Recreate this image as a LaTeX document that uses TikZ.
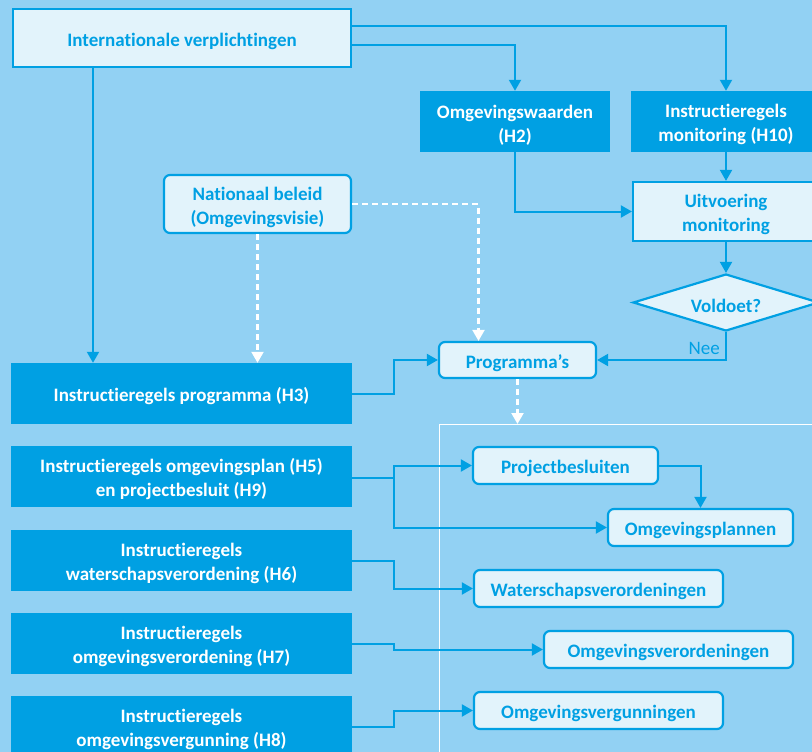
\documentclass[tikz,border=0pt]{standalone}
\usepackage{fontspec}
\setmainfont{Carlito}[Ligatures=NoCommon]
\usetikzlibrary{arrows.meta,shapes.geometric}
\definecolor{bgblue}{HTML}{92D1F3}
\definecolor{dblue}{HTML}{00A0E3}
\definecolor{lfill}{HTML}{E2F3FB}
\newcommand{\tstrut}{\rule{0pt}{20pt}}
\tikzset{
  txt/.style={font=\fontsize{19}{24}\selectfont\bfseries, align=center, inner sep=0pt},
  darkbox/.style={txt, fill=dblue, text=white},
  lightbox/.style={txt, fill=lfill, draw=dblue, line width=2.2pt, text=dblue},
  roundbox/.style={lightbox, rounded corners=6pt},
  arr/.style={draw=dblue, line width=2pt, -{Triangle[length=11pt,width=12pt]}},
  darr/.style={draw=white, line width=2.2pt, dash pattern=on 6pt off 4pt, -{Triangle[length=11pt,width=12pt,fill=white]}},
}
\begin{document}
\begin{tikzpicture}[x=1pt,y=-1pt]
\fill[bgblue] (0,0) rectangle (812,752);
\useasboundingbox (0,0) rectangle (812,752);
% frame
\draw[white, line width=1pt] (439,760) |- (830,424);
\coordinate (fr) at (517.5,424);
% nodes
\node[lightbox, minimum width=338pt, minimum height=58pt] (intl) at (182,38) {\tstrut Internationale verplichtingen};
\node[darkbox, minimum width=190pt, minimum height=61pt] (h2) at (515,121.5) {\tstrut Omgevingswaarden\\(H2)};
\node[darkbox, minimum width=190pt, minimum height=61pt] (h10) at (726,121.5) {\tstrut Instructieregels\\monitoring (H10)};
\node[lightbox, minimum width=186pt, minimum height=59pt] (uit) at (726,211.5) {\tstrut Uitvoering\\monitoring};
\node[roundbox, minimum width=187pt, minimum height=58pt] (nat) at (257.5,204) {\tstrut Nationaal beleid\\(Omgevingsvisie)};
\node[lightbox, diamond, aspect=3.26, minimum width=186pt, minimum height=57pt] (dia) at (726,302.5) {\tstrut Voldoet?};
\node[roundbox, minimum width=157pt, minimum height=36pt] (prog) at (517.5,360) {\tstrut Programma’s};
\node[darkbox, minimum width=341pt, minimum height=61pt] (h3) at (181.5,393.5) {\tstrut Instructieregels programma (H3)};
\node[darkbox, minimum width=341pt, minimum height=61pt] (h5) at (181.5,476.5) {\tstrut Instructieregels omgevingsplan (H5)\\en projectbesluit (H9)};
\node[darkbox, minimum width=341pt, minimum height=61pt] (h6) at (181.5,560.5) {\tstrut Instructieregels\\waterschapsverordening (H6)};
\node[darkbox, minimum width=341pt, minimum height=61pt] (h7) at (181.5,643.5) {\tstrut Instructieregels\\omgevingsverordening (H7)};
\node[darkbox, minimum width=341pt, minimum height=61pt] (h8) at (181.5,726.5) {\tstrut Instructieregels\\omgevingsvergunning (H8)};
\node[roundbox, minimum width=185pt, minimum height=37pt] (pb) at (565.5,465.5) {\tstrut Projectbesluiten};
\node[roundbox, minimum width=185pt, minimum height=37pt] (op) at (700.5,527.5) {\tstrut Omgevingsplannen};
\node[roundbox, minimum width=249pt, minimum height=37pt] (wv) at (598.5,588.5) {\tstrut Waterschapsverordeningen};
\node[roundbox, minimum width=249pt, minimum height=37pt] (ov) at (668.5,649.5) {\tstrut Omgevingsverordeningen};
\node[roundbox, minimum width=249pt, minimum height=37pt] (ovg) at (598.5,710.5) {\tstrut Omgevingsvergunningen};
\node[font=\fontsize{19}{24}\selectfont, text=dblue, anchor=base east, inner sep=0pt] (nee) at (720,354) {Nee};
% connectors
\draw[arr] ([yshift=12pt]intl.east) -| (h10.north);
\draw[arr] ([yshift=-7pt]intl.east) -| (h2.north);
\draw[arr] (h10.south) -- (uit.north);
\draw[arr] (h2.south) |- (uit.west);
\draw[arr] (uit.south) -- (dia.north);
\draw[arr] (dia.south) |- (prog.east);
\draw[arr] ([xshift=-89pt]intl.south) -- ([xshift=-89pt]intl.south |- h3.north);
\draw[darr] (nat.south) -- (nat.south |- h3.north);
\draw[darr] (nat.east) -| ([xshift=-39pt]prog.north);
\draw[darr] (prog.south) -- (fr);
\draw[arr] (h3.east) -- ++(42pt,0) |- (prog.west);
\draw[arr] ([yshift=-1pt]h5.east) -- ++(42pt,0) |- (pb.west);
\draw[arr] ([yshift=-1pt]h5.east) -- ++(42pt,0) |- (op.west);
\draw[arr] (pb.east) -| (op.north);
\draw[arr] (h6.east) -- ++(42pt,0) |- (wv.west);
\draw[arr] (h7.east) -- ++(42pt,0) |- (ov.west);
\draw[arr] (h8.east) -- ++(42pt,0) |- (ovg.west);
\end{tikzpicture}
\end{document}
